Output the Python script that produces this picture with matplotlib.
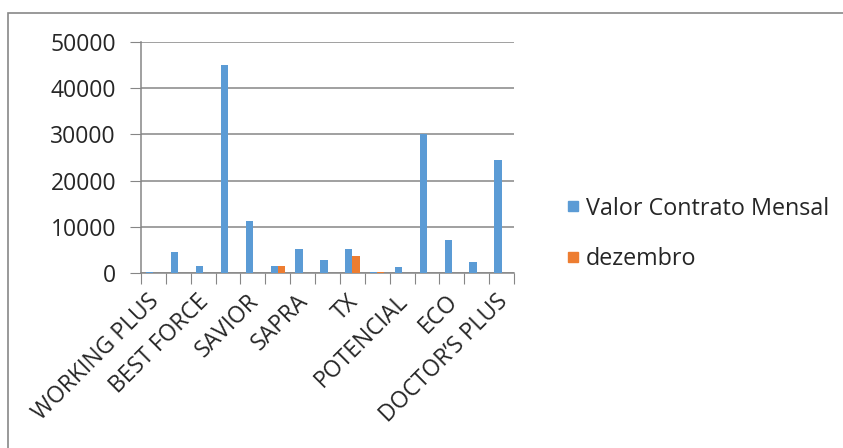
import matplotlib
matplotlib.use("Agg")
import matplotlib.pyplot as plt
from matplotlib.patches import Rectangle
from matplotlib.lines import Line2D
import matplotlib.transforms as mtransforms
import numpy as np

plt.rcParams['font.family'] = ['Open Sans', 'DejaVu Sans']

labels = ["WORKING PLUS", "", "BEST FORCE", "", "SAVIOR", "", "SAPRA", "", "TX", "",
          "POTENCIAL", "", "ECO", "", "DOCTOR\u2019S PLUS"]
valor = [300, 4550, 1500, 45000, 11200, 1500, 5100, 2900, 5100, 300, 1200, 30000, 7100, 2350, 24500]
dezembro = [0, 0, 0, 0, 0, 1500, 0, 0, 3750, 300, 0, 0, 0, 0, 0]
series_names = ["Valor Contrato Mensal", "dezembro"]
colors = ["#5B9BD5", "#ED7D31"]

fig = plt.figure(figsize=(8.43, 4.48), dpi=100)
fig.patches.append(Rectangle((8/843, -0.1), 2.0, 1 - 13/448 + 0.1, transform=fig.transFigure,
                             fill=False, edgecolor="#888888", linewidth=1.2))
ax = fig.add_axes([141/843, 1 - 273/448, (514 - 141)/843, (273 - 42)/448])

n = len(valor)
x = np.arange(n)
w = 0.29
ax.bar(x - w/2, valor, width=w, color=colors[0], zorder=3)
ax.bar(x + w/2, dezembro, width=w, color=colors[1], zorder=3)

ax.set_xlim(-0.5, n - 0.5)
ax.set_ylim(0, 50000)
ax.set_yticks(np.arange(0, 50001, 10000))
ax.tick_params(axis='y', length=8, color="#868686", labelsize=16.5, pad=10, labelcolor="#262626")
ax.yaxis.grid(True, color="#868686", linewidth=1.1, zorder=0)

ax.set_xticks(np.arange(-0.5, n, 1.0))
ax.set_xticklabels([])
ax.tick_params(axis='x', which='major', length=8, color="#868686")
ax.set_xticks(x, minor=True)
ax.set_xticklabels(labels, minor=True, rotation=45, ha='right', rotation_mode='anchor',
                   fontsize=16.5, color="#262626")
ax.tick_params(axis='x', which='minor', length=0, pad=12)
offset = mtransforms.ScaledTranslation(-6/100, 0, fig.dpi_scale_trans)
for lbl in ax.get_xticklabels(minor=True):
    lbl.set_transform(lbl.get_transform() + offset)

for s in ['top', 'right']:
    ax.spines[s].set_visible(False)
for s in ['left', 'bottom']:
    ax.spines[s].set_color("#868686")
    ax.spines[s].set_linewidth(1.1)

handles = [Line2D([0], [0], marker='s', linestyle='none', markersize=7.5, markerfacecolor=c,
                  markeredgecolor=c) for c in colors]
fig.legend(handles, series_names, loc='center left', bbox_to_anchor=(543/843, 1 - 234/448),
           frameon=False, fontsize=16.8, handletextpad=0.15, labelspacing=1.15,
           handlelength=0.8, labelcolor="#262626")

fig.savefig("out.png", dpi=100)
